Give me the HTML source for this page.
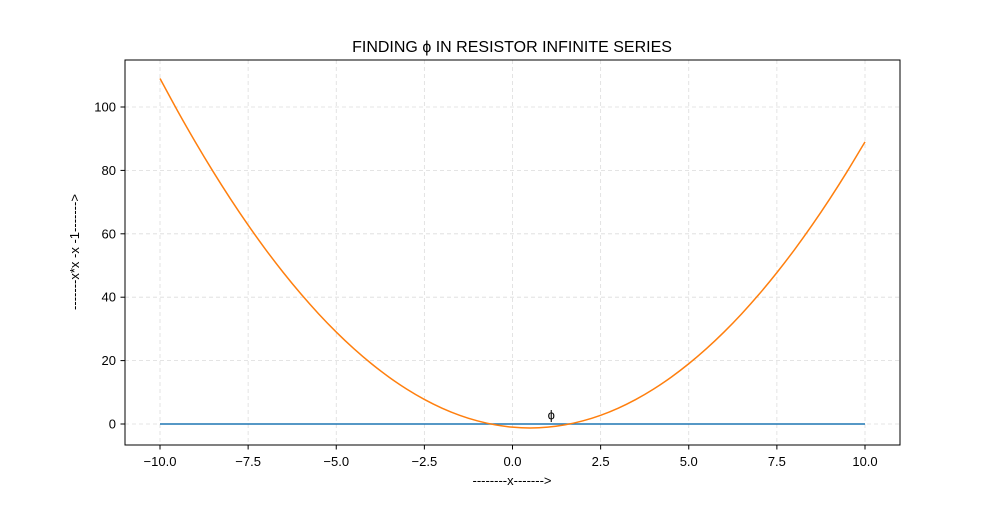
<!DOCTYPE html>
<html><head><meta charset="utf-8"><style>
body{margin:0;background:#fff}
svg{font-family:"Liberation Sans","DejaVu Sans",sans-serif}
</style></head><body>
<svg id="chart" width="1000" height="500">
<rect width="1000" height="500" fill="#fff"/>
<g id="grid"></g><g id="ticks"></g><g id="series"></g>
<rect x="125" y="60" width="775" height="385" fill="none" stroke="#000" stroke-width="1"/>
<text x="512" y="52" text-anchor="middle" font-size="16">FINDING ϕ IN RESISTOR INFINITE SERIES</text>
<text x="512" y="485" text-anchor="middle" font-size="13">--------x-------&gt;</text>
<text transform="translate(79,252) rotate(-90)" text-anchor="middle" font-size="13">-------x*x -x -1-------&gt;</text>
</svg>
<script>
const xValues=[-10,-9.5,-9,-8.5,-8,-7.5,-7,-6.5,-6,-5.5,-5,-4.5,-4,-3.5,-3,-2.5,-2,-1.5,-1,-0.5,0,0.5,1,1.5,2,2.5,3,3.5,4,4.5,5,5.5,6,6.5,7,7.5,8,8.5,9,9.5,10];
const yValues=[109,98.75,89,79.75,71,62.75,55,47.75,41,34.75,29,23.75,19,14.75,11,7.75,5,2.75,1,-0.25,-1,-1.25,-1,-0.25,1,2.75,5,7.75,11,14.75,19,23.75,29,34.75,41,47.75,55,62.75,71,79.75,89];
const zeroLineX=[-10,10];
const zeroLineY=[0,0];
const xTicks=[-10,-7.5,-5,-2.5,0,2.5,5,7.5,10];
const xTickLabels=["−10.0","−7.5","−5.0","−2.5","0.0","2.5","5.0","7.5","10.0"];
const yTicks=[0,20,40,60,80,100];
const yTickLabels=["0","20","40","60","80","100"];
const phiLabel={x:1.1,y:3,text:"ϕ"};
const sx=v=>512.5+v*35.25;
const sy=v=>424-v*3.17;
const NS="http://www.w3.org/2000/svg";
function mk(tag,attrs,parent,txt){const e=document.createElementNS(NS,tag);for(const k in attrs)e.setAttribute(k,attrs[k]);if(txt!=null)e.textContent=txt;parent.appendChild(e);return e;}
const grid=document.getElementById('grid'),ticks=document.getElementById('ticks'),series=document.getElementById('series');
xTicks.forEach((t,i)=>{const x=sx(t);
 const g=mk('line',{x1:x,x2:x,y1:60,y2:445,stroke:'#dcdcdc','stroke-dasharray':'4,3','stroke-width':0.8},grid);
 
 
 const tk=mk('line',{x1:x,x2:x,y1:445,y2:449.5,stroke:'#000'},ticks);
 
 
 const l=mk('text',{x:x,y:466,'text-anchor':'middle','font-size':13},ticks,xTickLabels[i]);
 
 
});
yTicks.forEach((t,i)=>{const y=sy(t);
 const g=mk('line',{x1:125,x2:900,y1:y,y2:y,stroke:'#dcdcdc','stroke-dasharray':'4,3','stroke-width':0.8},grid);
 
 
 const tk=mk('line',{x1:120.5,x2:125,y1:y,y2:y,stroke:'#000'},ticks);
 
 
 const l=mk('text',{x:116,y:y+4.5,'text-anchor':'end','font-size':13},ticks,yTickLabels[i]);
 
 
});
const zl=mk('line',{x1:sx(zeroLineX[0]),x2:sx(zeroLineX[1]),y1:sy(zeroLineY[0]),y2:sy(zeroLineY[1]),stroke:'#1f77b4','stroke-width':1.5},series);


const P=xValues.map((x,i)=>[sx(x),sy(yValues[i])]);
let d='M'+P[0][0]+','+P[0][1];
for(let i=0;i<P.length-1;i++){const p0=P[Math.max(0,i-1)],p1=P[i],p2=P[i+1],p3=P[Math.min(P.length-1,i+2)];
 d+=' C'+(p1[0]+(p2[0]-p0[0])/6)+','+(p1[1]+(p2[1]-p0[1])/6)+' '+(p2[0]-(p3[0]-p1[0])/6)+','+(p2[1]-(p3[1]-p1[1])/6)+' '+p2[0]+','+p2[1];}
const cv=mk('path',{d:d,fill:'none',stroke:'#ff7f0e','stroke-width':1.5},series);


const ph=mk('text',{x:sx(phiLabel.x),y:sy(phiLabel.y)+5,'text-anchor':'middle','font-size':13},series,phiLabel.text);


</script>
</body></html>
